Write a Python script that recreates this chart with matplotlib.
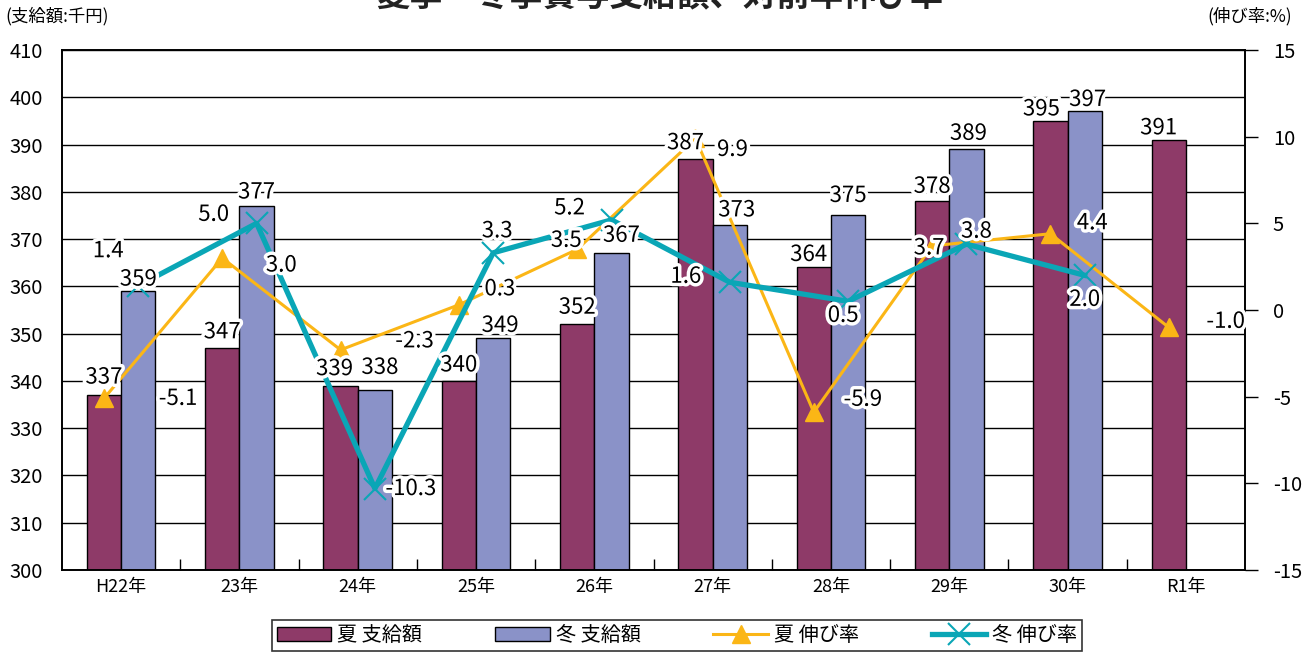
import numpy as np
import matplotlib.pyplot as plt
import matplotlib.patheffects as pe
from matplotlib.lines import Line2D
from matplotlib.patches import Patch

plt.rcParams['font.family'] = ['Noto Sans CJK JP', 'DejaVu Sans']
plt.rcParams['axes.unicode_minus'] = False

years = ["H22年", "23年", "24年", "25年", "26年", "27年", "28年", "29年", "30年", "R1年"]
summer_pay = [337, 347, 339, 340, 352, 387, 364, 378, 395, 391]
winter_pay = [359, 377, 338, 349, 367, 373, 375, 389, 397]
summer_rate = [-5.1, 3.0, -2.3, 0.3, 3.5, 9.9, -5.9, 3.7, 4.4, -1.0]
winter_rate = [1.4, 5.0, -10.3, 3.3, 5.2, 1.6, 0.5, 3.8, 2.0]

# label offsets in pixels (dx, dy)
off_sp = [(0, 18), (0, 16), (-6, 17), (0, 16), (0, 17), (-10, 16), (-5, 13), (0, 15), (-9, 12), (-10, 12)]
off_wp = [(0, 12), (0, 14), (5, 23), (7, 13), (10, 18), (7, 15), (0, 20), (2, 16), (3, 12)]
off_sr = [(74, 0), (59, -7), (74, 9), (41, 16), (-11, 9), (37, -11), (49, 13), (-3, -2), (42, 11), (57, 6)]
off_wr = [(-30, 35), (-43, 9), (36, 0), (4, 22), (-42, 12), (-44, 6), (-5, -14), (10, 13), (0, -24)]

c_sum = '#8E3A68'
c_win = '#8A92C8'
c_ysum = '#FBB616'
c_twin = '#0AA6B6'

fig = plt.figure(figsize=(13.06, 6.53), dpi=100)
ax = fig.add_axes([62 / 1306, 83 / 653, 1183 / 1306, 520 / 653])
ax2 = ax.twinx()

x = np.arange(len(years))
w = 0.29
xs = x - w / 2
xw = x[:len(winter_pay)] + w / 2

ax.set_axisbelow(True)
ax.bar(xs, summer_pay, w, color=c_sum, edgecolor='black', linewidth=1)
ax.bar(xw, winter_pay, w, color=c_win, edgecolor='black', linewidth=1)
ax.set_ylim(300, 410)
ax.set_yticks(range(300, 411, 10))
ax.yaxis.grid(True, color='black', linewidth=1)
ax.set_xlim(-0.5, len(years) - 0.5)
ax.set_xticks(x)
ax.set_xticklabels(years, fontsize=13)
ax.set_xticks(np.arange(0.5, len(years) - 0.5, 1), minor=True)
ax.tick_params(axis='x', which='major', length=0, pad=6)
ax.tick_params(axis='x', which='minor', direction='in', length=8, width=1)
ax.tick_params(axis='y', length=0, labelsize=14.5, pad=14)

ax2.plot(xs, summer_rate, color=c_ysum, linewidth=2.2, marker='^', markersize=13)
ax2.plot(xw, winter_rate, color=c_twin, linewidth=3.8, marker='x', markersize=16,
         markeredgewidth=1.5)
ax2.set_ylim(-15, 15)
ax2.set_yticks(range(-15, 16, 5))
ax2.tick_params(axis='y', direction='out', length=9, width=1, labelsize=14.5, pad=11)

for a in (ax, ax2):
    for s in a.spines.values():
        s.set_linewidth(1.2)

halo = [pe.withStroke(linewidth=5, foreground='white')]


def put(txt, px, py, off, coords):
    ax2.annotate(txt, (px, py), xycoords=coords, xytext=off, textcoords='offset pixels',
                 ha='center', va='center', fontsize=16, color='black',
                 path_effects=halo, zorder=10)


for i, v in enumerate(summer_pay):
    put(str(v), xs[i], v, off_sp[i], ax.transData)
for i, v in enumerate(winter_pay):
    put(str(v), xw[i], v, off_wp[i], ax.transData)
for i, v in enumerate(summer_rate):
    put(f"{v:.1f}", xs[i], v, off_sr[i], ax2.transData)
for i, v in enumerate(winter_rate):
    put(f"{v:.1f}", xw[i], v, off_wr[i], ax2.transData)

fig.text(0.505, 1 + 3 / 653, "夏季・冬季賞与支給額、対前年伸び率", ha='center', va='center',
         fontsize=24, fontweight='bold', color='#222222')
fig.text(5 / 1306, 1 - 16 / 653, "(支給額:千円)", ha='left', va='center', fontsize=12.5)
fig.text(1292 / 1306, 1 - 16 / 653, "(伸び率:%)", ha='right', va='center', fontsize=12.5)

handles = [
    Patch(facecolor=c_sum, edgecolor='black', label='夏 支給額'),
    Patch(facecolor=c_win, edgecolor='black', label='冬 支給額'),
    Line2D([], [], color=c_ysum, linewidth=2.2, marker='^', markersize=13, label='夏 伸び率'),
    Line2D([], [], color=c_twin, linewidth=3.8, marker='x', markersize=16,
           markeredgewidth=1.5, label='冬 伸び率'),
]
leg = fig.legend(handles=handles, loc='lower left', mode='expand',
                 bbox_to_anchor=(272 / 1306, 2 / 653, 810 / 1306, 38 / 653), ncol=4,
                 fontsize=14.5, frameon=True, fancybox=False, edgecolor='black',
                 handlelength=2.7, handletextpad=0.3, borderpad=0.25, borderaxespad=0)
leg.get_frame().set_linewidth(1.2)

fig.savefig('out.png', dpi=100)
